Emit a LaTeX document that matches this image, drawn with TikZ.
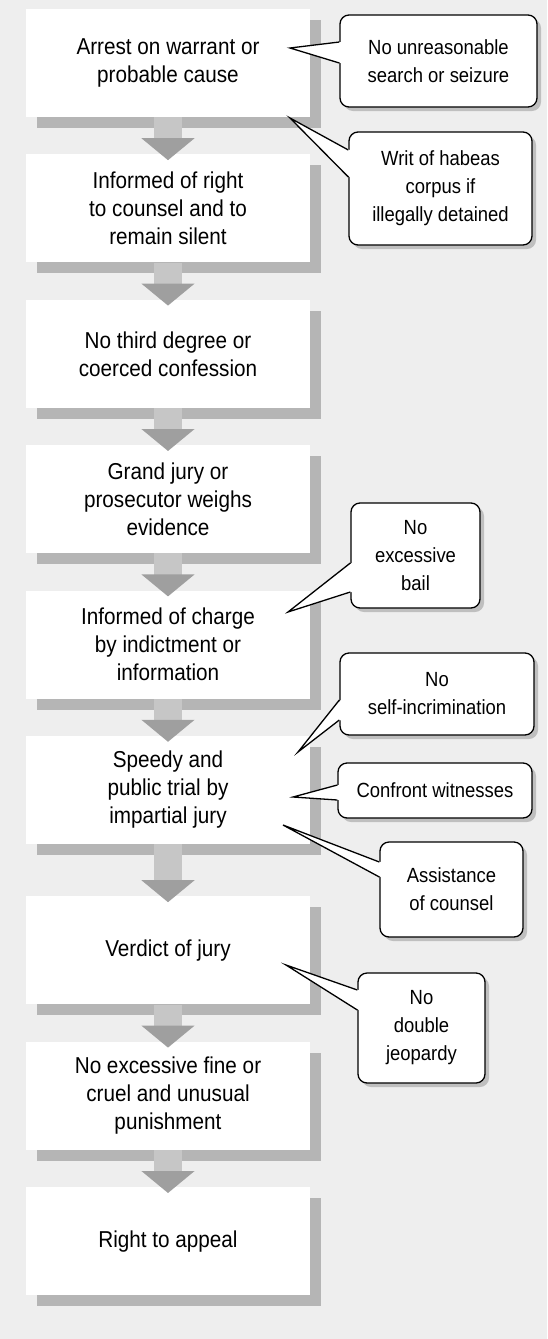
\documentclass[tikz,border=0pt]{standalone}
\usepackage{fontspec}
\setmainfont{Liberation Sans}[FakeStretch=0.9]
\usetikzlibrary{positioning}
\usetikzlibrary{shadows}
\usetikzlibrary{arrows.meta}
\usetikzlibrary{calc}

\begin{document}
\begin{tikzpicture}[x=1pt,y=1pt,node distance=37pt]
	\tikzstyle{phase} = [rectangle, fill=white, minimum width=284pt, minimum height=108pt, align=center, font=\fontsize{23}{28}\selectfont, drop shadow={shadow xshift=11pt, shadow yshift=-11pt, fill=gray!58, opacity=1}]
	\tikzstyle{note} = [rectangle, rounded corners=9pt, draw=black, line width=1.3pt, fill=white, align=center, font=\fontsize{20.5}{28}\selectfont, drop shadow={shadow xshift=4pt, shadow yshift=-4pt, fill=gray!50, opacity=1}]
	\tikzstyle{down} = [line width=28pt, draw=gray!45, -{Triangle[width=52pt,length=22pt,fill=gray!75,color=gray!75]}]
	% background
	\fill [gray!13] (0,0) rectangle (547,-1339);
	\useasboundingbox (0,0) rectangle (547,-1339);
	% main steps
	\node [phase] (arrest) at (168,-63) {Arrest on warrant or\\probable cause};
	\node [phase,below=of arrest] (rights) {Informed of right\\to counsel and to\\remain silent};
	\node [phase,below=of rights] (confession) {No third degree or\\coerced confession};
	\node [phase,below=of confession] (grandjury) {Grand jury or\\prosecutor weighs\\evidence};
	\node [phase,below=of grandjury] (charge) {Informed of charge\\by indictment or\\information};
	\node [phase,below=of charge] (trial) {Speedy and\\public trial by\\impartial jury};
	\node [phase,below=52pt of trial] (verdict) {Verdict of jury};
	\node [phase,below=of verdict] (fine) {No excessive fine or\\cruel and unusual\\punishment};
	\node [phase,below=of fine] (appeal) {Right to appeal};
	\foreach \a/\b in {arrest/rights, rights/confession, confession/grandjury, grandjury/charge, charge/trial, trial/verdict, verdict/fine, fine/appeal}
		\draw [down] (\a.south) -- ([yshift=-6pt]\b.north);
	% rights
	\node [note, minimum width=197pt, minimum height=92pt] (search) at (438.5,-61) {No unreasonable\\search or seizure};
	\node [note, minimum width=183pt, minimum height=113pt] (habeas) at (440.5,-188.5) {Writ of habeas\\corpus if\\illegally detained};
	\node [note, minimum width=129pt, minimum height=105pt] (bail) at (415.5,-555.5) {No\\excessive\\bail};
	\node [note, minimum width=194pt, minimum height=82pt] (selfincr) at (437,-694) {No\\self-incrimination};
	\node [note, minimum width=194pt, minimum height=55pt] (witnesses) at (435,-790.5) {Confront witnesses};
	\node [note, minimum width=143pt, minimum height=95pt] (counsel) at (451.5,-889.5) {Assistance\\of counsel};
	\node [note, minimum width=127pt, minimum height=110pt] (jeopardy) at (421.5,-1028) {No\\double\\jeopardy};
	\foreach \n/\tx/\ty/\ya/\yb in {search/290/48/42/63, habeas/290/118/150/177, bail/288/612/563/592, selfincr/298/752/700/720, witnesses/293/797/785/800, counsel/283/825/862/877, jeopardy/286/965/990/1010} {
		\coordinate (\n tip) at (\tx,-\ty);
		\fill [white] ($(\n.west |- 0,-\ya)+(1.4,0)$) -- (\n tip) -- ($(\n.west |- 0,-\yb)+(1.4,0)$) -- cycle;
		\draw [line width=1.3pt] (\n.west |- 0,-\ya) -- (\n tip) -- (\n.west |- 0,-\yb);
	}
\end{tikzpicture}
\end{document}
